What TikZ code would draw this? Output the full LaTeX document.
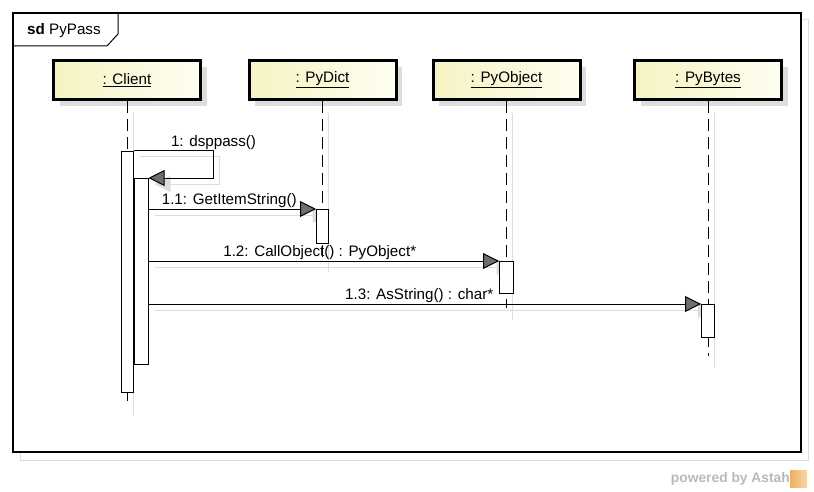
\documentclass[tikz,border=0pt]{standalone}
\usepackage{fontspec}
\setmainfont{Liberation Sans}
\usetikzlibrary{arrows.meta,shadows}

\definecolor{headL}{HTML}{F6F3C2}
\definecolor{headR}{HTML}{FEFEF2}
\definecolor{shadowgray}{HTML}{DDDDDD}
\definecolor{tipgray}{HTML}{6E6E6E}
\definecolor{powergray}{HTML}{B9B9B9}
\definecolor{logo}{HTML}{F0B060}

\tikzset{
  head/.style={draw, line width=3pt, minimum width=147pt, minimum height=39pt,
    left color=headL, right color=headR,
    general shadow={fill=shadowgray, shadow xshift=6pt, shadow yshift=-7pt}},
  lifeline/.style={line width=1pt, dash pattern=on 12pt off 6pt},
  lifeshadow/.style={draw=shadowgray, line width=1pt, transform canvas={xshift=6pt,yshift=-12pt}},
  bar/.style={draw, fill=white, line width=1pt, inner sep=0pt, minimum width=12pt},
  msg/.style={draw, line width=1pt, -{Triangle[length=16pt,width=16pt,fill=tipgray]}},
  msgshadow/.style={draw=shadowgray, line width=1pt, -{Triangle[length=16pt,width=16pt,fill=shadowgray]},
    transform canvas={xshift=6pt,yshift=-6pt}},
  msglabel/.style={inner sep=1pt}
}

\begin{document}
\begin{tikzpicture}[x=1pt, y=-1pt, font=\fontsize{15.2}{18}\selectfont]
  \useasboundingbox (0,0) rectangle (814,492);
  % Draw frame
  \draw[shadowgray, line width=1pt] (20,20) rectangle (808,460);
  \draw[fill=white, line width=1.3pt] (13,13) rectangle (801,452);
  \draw[line width=1pt] (13,46) -- (107,46) -- (118,34) -- (118,13);
  \node[anchor=west, inner sep=0pt] (sd) at (27,31) {\textbf{sd} PyPass};
  % Draw lifeline heads
  \foreach \n/\x/\t in {client/127/Client,pydict/322.5/PyDict,pyobject/506.5/PyObject,pybytes/708/PyBytes}
    \node[head] (\n) at (\x,80) {\underline{: \t}};
  % Draw lifelines
  \foreach \n/\len in {client/302,pydict/159,pyobject/207,pybytes/255}
  {
    \draw[lifeshadow] (\n.south) -- ++(0,\len);
    \draw[lifeline] (\n.south) -- ++(0,\len);
  }
  % Draw activation bars
  \node[bar, anchor=north, minimum height=241pt] (clientOut) at (client |- 0,151) {};
  \node[bar, anchor=north west, minimum width=14pt, minimum height=186pt] (clientIn) at (clientOut.north east |- 0,178) {};
  % Draw message shadows
  \draw[msgshadow] (clientOut.north east) -- ++(80,0) |- (clientIn.north east);
  \draw[msgshadow] (clientIn.east |- 0,209) -- (pydict |- 0,209);
  \draw[msgshadow] (clientIn.east |- 0,261) -- (pyobject |- 0,261);
  \draw[msgshadow] (clientIn.east |- 0,304) -- (pybytes |- 0,304);
  \node[bar, anchor=north, minimum height=34pt] (dictBar) at (pydict |- 0,209) {};
  \node[bar, anchor=north, minimum width=14pt, minimum height=32pt] (objBar) at (pyobject |- 0,261) {};
  \node[bar, anchor=north, minimum width=13pt, minimum height=33pt] (bytesBar) at (pybytes |- 0,304) {};
  \draw[fill=white, draw=none] (clientOut.north west) ++(1pt,-1pt) rectangle ++(10pt,-25pt);
  % Draw messages
  \draw[msg] (clientOut.north east) -- node[msglabel, pos=0.45, anchor=south west] {1: dsppass()} ++(80,0) |- (clientIn.north east);
  \draw[msg] (clientIn.east |- dictBar.north) -- node[msglabel, above, xshift=-3pt] {1.1: GetItemString()} (dictBar.north west);
  \draw[msg] (clientIn.east |- objBar.north) -- node[msglabel, above, xshift=-4pt] {1.2: CallObject() : PyObject*} (objBar.north west);
  \draw[msg] (clientIn.east |- bytesBar.north) -- node[msglabel, above, pos=0.49] {1.3: AsString() : char*} (bytesBar.north west);
  % Draw footer
  \node[anchor=east, inner sep=0pt, text=powergray, font=\fontsize{13.8}{16}\bfseries] (astah) at (790,479) {powered by Astah};
  \node[anchor=west, inner sep=0pt, minimum size=17pt, left color=logo, right color=logo!50] (logo) at (astah.east) {};
\end{tikzpicture}
\end{document}
